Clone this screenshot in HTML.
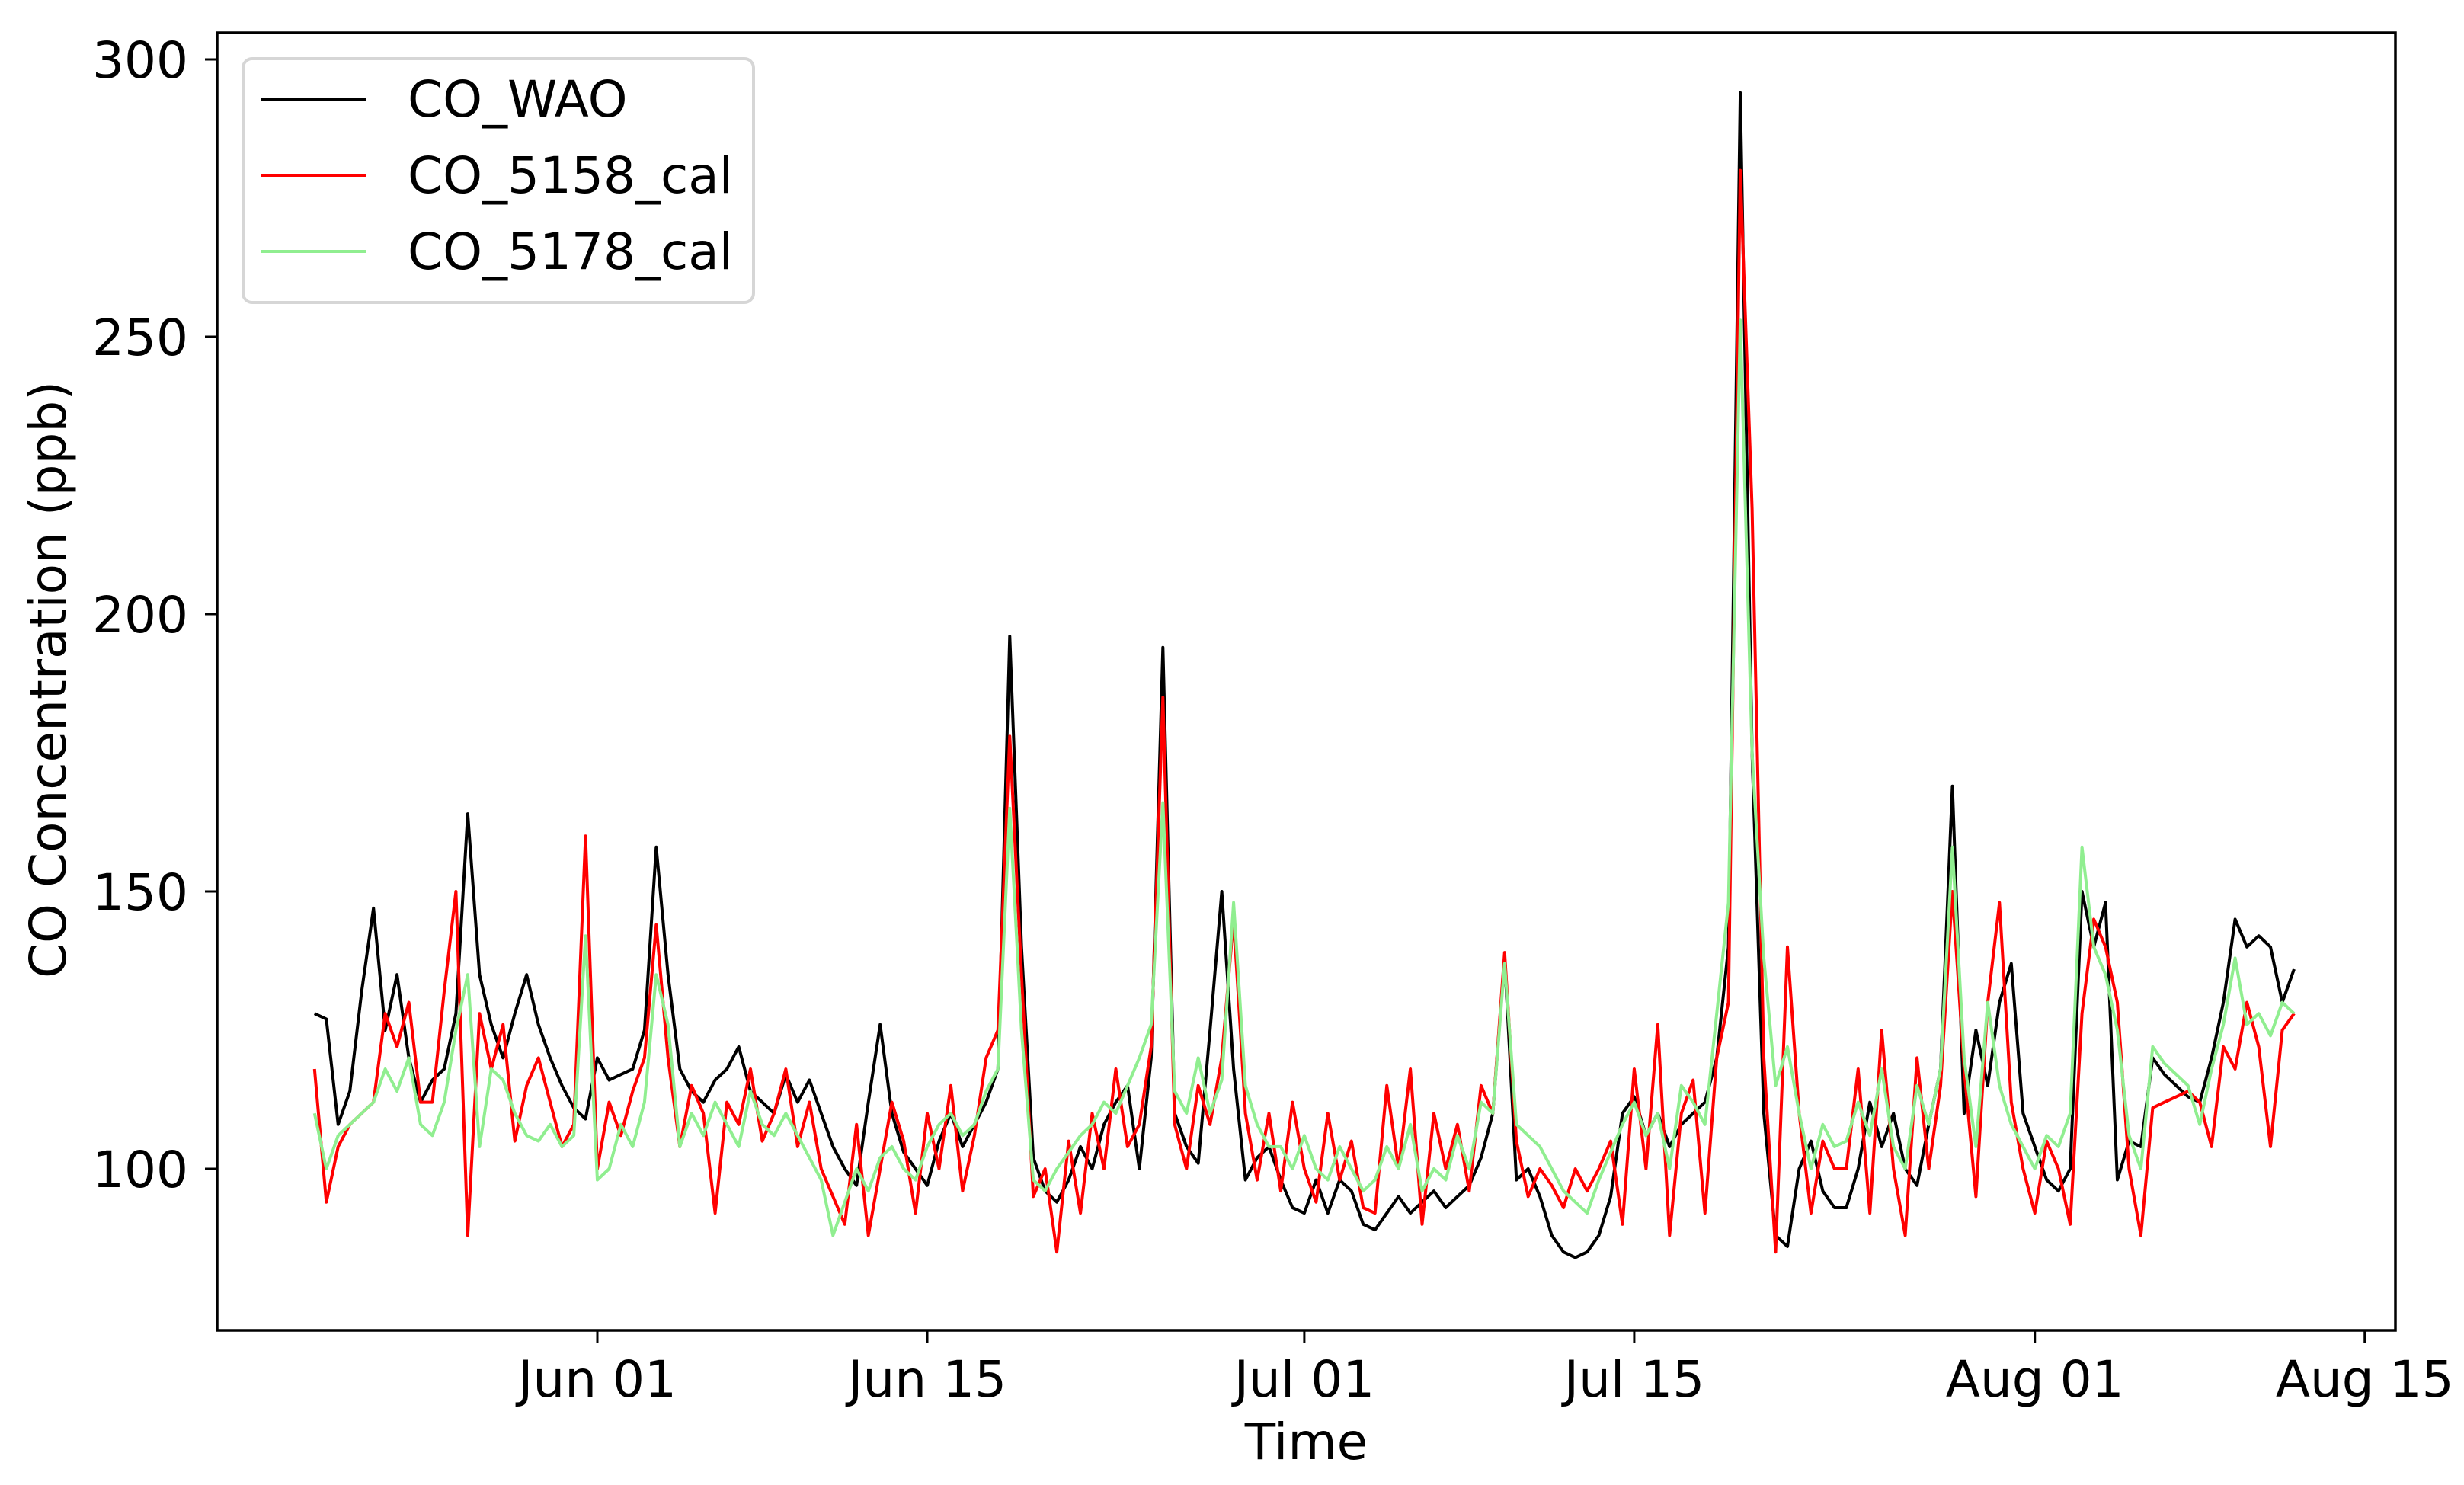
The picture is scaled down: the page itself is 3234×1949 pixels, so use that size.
<!DOCTYPE html>
<html><head><meta charset="utf-8">
<style>
html,body{margin:0;padding:0;background:#fff;}
svg{display:block;font-family:"DejaVu Sans","Liberation Sans",sans-serif;}
</style></head>
<body>
<svg id="chart" width="3234" height="1949" viewBox="0 0 3234 1949" xmlns="http://www.w3.org/2000/svg">
<rect x="0" y="0" width="3234" height="1949" fill="#fff"/>
<g id="series"></g>
<g id="axes"></g>
<g id="legend">
  <rect x="319" y="77" width="670" height="320" rx="12" fill="#fff" fill-opacity="0.8" stroke="#d6d6d6" stroke-width="4"/>
  <line x1="342" y1="130" x2="481" y2="130" stroke="#000" stroke-width="4"/>
  <text x="535" y="153" font-size="66">CO_WAO</text>
  <line x1="342" y1="230" x2="481" y2="230" stroke="#ff0000" stroke-width="4"/>
  <text x="535" y="253" font-size="66">CO_5158_cal</text>
  <line x1="342" y1="330" x2="481" y2="330" stroke="#90ee90" stroke-width="4"/>
  <text x="535" y="353" font-size="66">CO_5178_cal</text>
</g>
</svg>
<script>
// time axis: days since May 20, 0.5-day step
const startDay = 0;
const stepDays = 0.5;
const xTickDays = [12, 26, 42, 56, 73, 87];
const xTickLabels = ["Jun 01", "Jun 15", "Jul 01", "Jul 15", "Aug 01", "Aug 15"];
const yTickValues = [100, 150, 200, 250, 300];
const yTickLabels = ["100", "150", "200", "250", "300"];
const seriesNames = ["CO_WAO", "CO_5158_cal", "CO_5178_cal"];
const coWAO = [
128,127,108,114,132,147,125,135,120,112,
116,118,128,164,135,126,120,128,135,126,
120,115,111,109,120,116,117,118,125,158,
135,118,114,112,116,118,122,114,112,110,
117,112,116,110,104,100,97,112,126,110,
103,100,97,105,110,104,108,112,118,196,
140,102,96,94,98,104,100,108,112,115,
100,120,194,110,104,101,125,150,118,98,
102,104,98,93,92,98,92,98,96,90,
89,92,95,92,94,96,93,95,97,102,
110,138,98,100,95,88,85,84,85,88,
95,110,113,106,110,104,108,110,112,120,
140,294,175,110,88,86,100,105,96,93,
93,100,112,104,110,100,97,108,118,169,
110,125,115,130,137,110,104,98,96,100,
150,140,148,98,105,104,120,117,115,113,
112,120,130,145,140,142,140,130,136];
const co5158 = [
118,94,104,108,110,112,128,122,130,112,
112,132,150,88,128,118,126,105,115,120,
112,104,108,160,100,112,106,114,120,144,
120,104,115,110,92,112,108,118,105,110,
118,104,112,100,95,90,108,88,100,112,
105,92,110,100,115,96,106,120,125,178,
135,95,100,85,105,92,110,100,118,104,
108,122,185,108,100,115,108,120,145,110,
98,110,96,112,100,94,110,98,105,93,
92,115,100,118,90,110,100,108,96,115,
110,139,105,95,100,97,93,100,96,100,
105,90,118,100,126,88,110,116,92,120,
130,280,219,120,85,140,110,92,105,100,
100,118,92,125,100,88,120,100,115,150,
118,95,130,148,112,100,92,105,100,90,
128,145,140,130,100,88,111,112,113,114,
112,104,122,118,130,122,104,125,128];
const co5178 = [
110,100,106,108,110,112,118,114,120,108,
106,112,125,135,104,118,116,110,106,105,
108,104,106,142,98,100,108,104,112,135,
126,104,110,106,112,108,104,114,108,106,
110,106,102,98,88,94,100,96,102,104,
100,98,104,108,110,106,108,114,118,165,
125,98,96,100,103,106,108,112,110,115,
120,126,166,114,110,120,110,116,148,115,
108,104,104,100,106,100,98,104,100,96,
98,104,100,108,96,100,98,106,100,112,
110,137,108,106,104,100,96,94,92,98,
103,108,112,106,110,100,115,112,108,128,
148,253,175,138,115,122,110,100,108,104,
105,112,106,118,104,100,115,108,118,158,
120,104,130,115,108,104,100,106,104,110,
158,140,135,125,106,100,122,119,117,115,
108,118,126,138,126,128,124,130,128];

const PL = 285, PR = 3144, PT = 43, PB = 1746;
const NS = "http://www.w3.org/2000/svg";
function xScale(d){ return 784 + (d - 12) * 30.93; }
function yScale(v){ return 1534 - (v - 100) * 7.28; }
function mk(tag, attrs){ const e = document.createElementNS(NS, tag); for (const k in attrs) e.setAttribute(k, attrs[k]); return e; }

const seriesG = document.getElementById('series');
const axesG = document.getElementById('axes');
const colors = ["#000000", "#ff0000", "#90ee90"];
const allSeries = [coWAO, co5158, co5178];
const seriesKeys = ["co-wao", "co-5158-cal", "co-5178-cal"];
allSeries.forEach((vals, si) => {
  const pts = vals.map((v, i) => xScale(startDay + i * stepDays).toFixed(1) + "," + yScale(v).toFixed(1)).join(" ");
  const pl = mk('polyline', {points: pts, fill: "none", stroke: colors[si], "stroke-width": 4, "stroke-linejoin": "round"});
  
  
  seriesG.appendChild(pl);
});

// frame
const frame = mk('rect', {x: PL, y: PT, width: PR - PL, height: PB - PT, fill: "none", stroke: "#000", "stroke-width": 3.5});


axesG.appendChild(frame);

xTickDays.forEach((d, i) => {
  const x = xScale(d);
  const t = mk('line', {x1: x, y1: PB, x2: x, y2: PB + 16, stroke: "#000", "stroke-width": 3});
  
  
  axesG.appendChild(t);
  const lb = mk('text', {x: x, y: 1833, "font-size": 66, "text-anchor": "middle"});
  lb.textContent = xTickLabels[i];
  
  
  axesG.appendChild(lb);
});
yTickValues.forEach((v, i) => {
  const y = yScale(v);
  const t = mk('line', {x1: PL - 16, y1: y, x2: PL, y2: y, stroke: "#000", "stroke-width": 3});
  
  
  axesG.appendChild(t);
  const lb = mk('text', {x: 247, y: y + 24, "font-size": 66, "text-anchor": "end"});
  lb.textContent = yTickLabels[i];
  
  
  axesG.appendChild(lb);
});
const xt = mk('text', {x: (PL + PR) / 2, y: 1915, "font-size": 66, "text-anchor": "middle"});
xt.textContent = "Time";


axesG.appendChild(xt);
const yt = mk('text', {x: 0, y: 0, "font-size": 66, "text-anchor": "middle", transform: "translate(86,892) rotate(-90)"});
yt.textContent = "CO Concentration (ppb)";


axesG.appendChild(yt);
</script>
</body></html>
